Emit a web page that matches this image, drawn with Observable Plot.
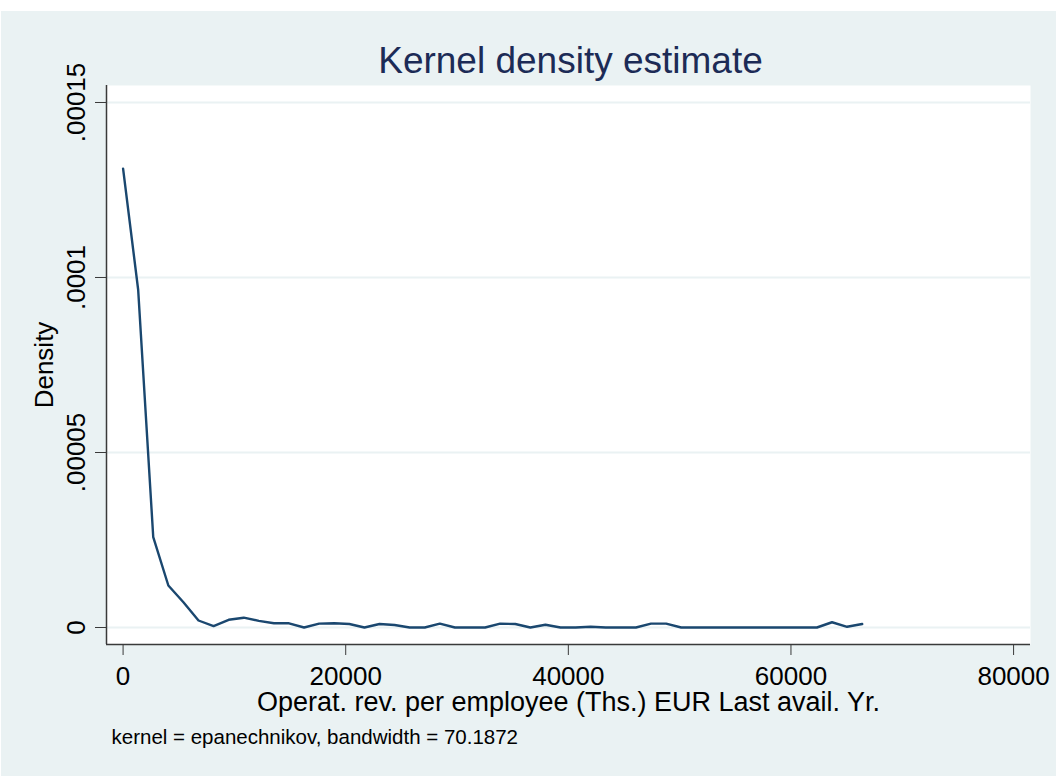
<!DOCTYPE html>
<html>
<head>
<meta charset="utf-8">
<script src="https://cdn.jsdelivr.net/npm/d3@7"></script>
<script src="https://cdn.jsdelivr.net/npm/@observablehq/plot@0.6"></script>
<style>
  body { margin: 0; background: #fff; }
  #chart svg { display: block; }
</style>
</head>
<body>
<div id="chart"></div>
<script>
// Evaluation grid (Operat. rev. per employee, Ths. EUR)
const xValues = [
  0, 1355, 2710, 4066, 5421, 6776, 8131, 9486, 10841, 12196,
  13551, 14906, 16261, 17617, 18972, 20327, 21682, 23037, 24392, 25747,
  27102, 28457, 29812, 31167, 32522, 33878, 35233, 36588, 37943, 39298,
  40653, 42008, 43363, 44718, 46073, 47429, 48784, 50139, 51494, 52849,
  54204, 55559, 56914, 58269, 59624, 60980, 62335, 63690, 65045, 66400
];
// Estimated density at each grid point
const densityValues = [
  0.0001311, 0.0000965, 0.0000258, 0.0000120, 0.0000072, 0.0000020, 0.0000004, 0.0000022, 0.0000028, 0.0000019,
  0.0000012, 0.0000012, 0.0000000, 0.0000011, 0.0000012, 0.0000010, 0.0000000, 0.0000010, 0.0000007, 0.0000000,
  0.0000000, 0.0000011, 0.0000000, 0.0000000, 0.0000000, 0.0000011, 0.0000010, 0.0000000, 0.0000008, 0.0000000,
  0.0000000, 0.0000002, 0.0000000, 0.0000000, 0.0000000, 0.0000011, 0.0000011, 0.0000000, 0.0000000, 0.0000000,
  0.0000000, 0.0000000, 0.0000000, 0.0000000, 0.0000000, 0.0000000, 0.0000000, 0.0000015, 0.0000002, 0.0000010
];
const xTicks = [0, 20000, 40000, 60000, 80000];
const yTicks = [0, 0.00005, 0.0001, 0.00015];
const yTickLabels = ["0", ".00005", ".0001", ".00015"];

const titleText = "Kernel density estimate";
const xTitle = "Operat. rev. per employee (Ths.) EUR Last avail. Yr.";
const yTitle = "Density";
const captionText = "kernel = epanechnikov, bandwidth = 70.1872";

const xDomain = [-1490, 81520];
const yDomain = [-0.000004857, 0.000154857];

const data = xValues.map((x, i) => ({x, y: densityValues[i]}));
const yTickData = yTicks.map((v, i) => ({v, label: yTickLabels[i]}));

const font = "'Liberation Sans', Arial, Helvetica, sans-serif";
const axisColor = "#3a3a3a";
const bg = "#EAF2F3";

const chart = Plot.plot({
  width: 1056,
  height: 776,
  marginLeft: 106,
  marginRight: 26,
  marginTop: 85,
  marginBottom: 132,
  style: {
    fontFamily: font,
    fontSize: "26px",
    color: "#000",
    overflow: "visible",
    background: "linear-gradient(#fff, #fff) top left / 100% 11px no-repeat, linear-gradient(#fff, #fff) top left / 1px 100% no-repeat, " + bg
  },
  x: {domain: xDomain},
  y: {domain: yDomain},
  marks: [
    Plot.frame({fill: "white", stroke: "none"}),
    Plot.gridY(yTicks, {stroke: bg, strokeOpacity: 1, strokeWidth: 2}),
    Plot.line(data, {x: "x", y: "y", stroke: "#1a476f", strokeWidth: 2.4}),
    Plot.ruleX([xDomain[0]], {stroke: axisColor, strokeWidth: 1.5}),
    Plot.ruleY([yDomain[0]], {stroke: axisColor, strokeWidth: 1.5}),
    Plot.axisX({ticks: xTicks, tickSize: 11, tickPadding: 11, fontSize: 26, tickFormat: d => String(d), label: null, stroke: axisColor}),
    Plot.axisY({ticks: yTicks, tickSize: 11, tickFormat: () => "", label: null, stroke: axisColor}),
    Plot.text(yTickData, {y: "v", text: "label", frameAnchor: "left", rotate: -90, textAnchor: "middle", lineAnchor: "bottom", dx: -22, fontSize: 26, fill: "#000"}),
    Plot.text([yTitle], {text: d => d, frameAnchor: "left", rotate: -90, textAnchor: "middle", lineAnchor: "bottom", dx: -53.5, fontSize: 26, fill: "#000"}),
    Plot.text([titleText], {text: d => d, frameAnchor: "top", dx: 2, dy: -12.3, lineAnchor: "bottom", fontSize: 37, fill: "#1c2b56"}),
    Plot.text([xTitle], {text: d => d, frameAnchor: "bottom", dy: 66, lineAnchor: "bottom", fontSize: 27, fill: "#000"}),
    Plot.text([captionText], {text: d => d, frameAnchor: "bottom-left", dx: 5, dy: 99.3, textAnchor: "start", lineAnchor: "bottom", fontSize: 20.5, fill: "#000"})
  ]
});

document.getElementById("chart").appendChild(chart);
</script>
</body>
</html>
